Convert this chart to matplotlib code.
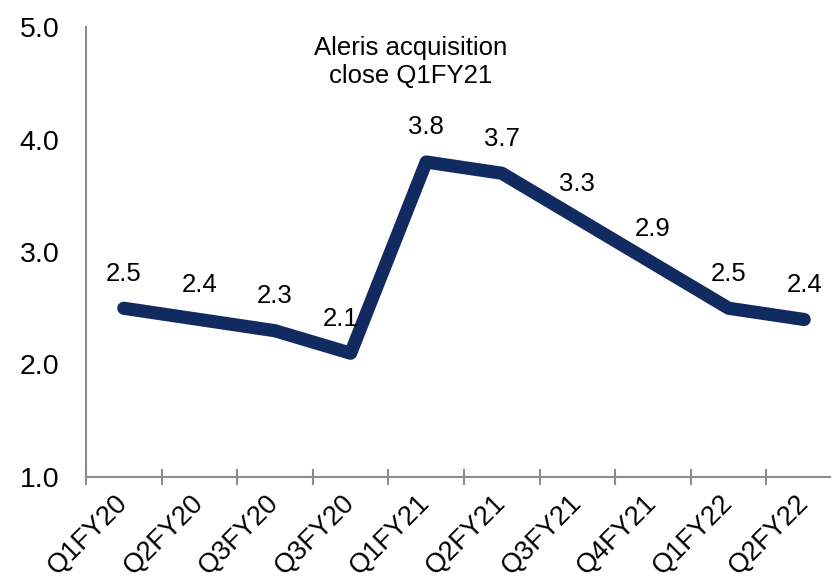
import matplotlib.pyplot as plt
import numpy as np

plt.rcParams['font.family'] = ['Liberation Sans', 'DejaVu Sans']

quarters = ['Q1FY20', 'Q2FY20', 'Q3FY20', 'Q3FY20', 'Q1FY21',
            'Q2FY21', 'Q3FY21', 'Q4FY21', 'Q1FY22', 'Q2FY22']
leverage = [2.5, 2.4, 2.3, 2.1, 3.8, 3.7, 3.3, 2.9, 2.5, 2.4]
y_ticks = [1.0, 2.0, 3.0, 4.0, 5.0]

navy = '#112a5f'
grey = '#8c8c8c'

fig = plt.figure(figsize=(8.31, 5.87), dpi=100)
# axis runs a little past the right edge of the picture, like the original
ax = fig.add_axes([86 / 831, 110 / 587, 756 / 831, 450 / 587])

x = np.arange(len(quarters))
ax.plot(x, leverage, color=navy, linewidth=9.5, solid_joinstyle='round',
        solid_capstyle='round')

# the 2.1 label sits a bit left of its point so it clears the line
nudge = [0, 0, 0, -7, 0, 0, 0, 0, 0, 0]
for xi, v, dx in zip(x, leverage, nudge):
    ax.annotate(f'{v:.1f}', (xi, v), xytext=(dx, 25), textcoords='offset points',
                ha='center', va='center', fontsize=18.5)

ax.text(3.79, 4.69, 'Aleris acquisition\nclose Q1FY21', ha='center', va='center',
        fontsize=18.5, linespacing=1.25)

ax.set_xlim(-0.5, len(quarters) - 0.5)
ax.set_ylim(1.0, 5.0)
ax.set_yticks(y_ticks)
ax.set_yticklabels([f'{t:.1f}' for t in y_ticks], fontsize=20.5)
ax.tick_params(axis='y', length=0, pad=19)

ax.set_xticks(x)
ax.set_xticklabels(quarters, fontsize=19.5, rotation=45, ha='right',
                   va='center', rotation_mode='anchor')
ax.tick_params(axis='x', which='major', length=0, pad=16)
ax.set_xticks(np.arange(len(quarters) + 1) - 0.5, minor=True)
ax.tick_params(axis='x', which='minor', direction='inout', length=12,
               width=1.5, color=grey)

for side in ['top', 'right']:
    ax.spines[side].set_visible(False)
for side in ['left', 'bottom']:
    ax.spines[side].set_color(grey)
    ax.spines[side].set_linewidth(1.5)

fig.savefig('out.png', dpi=100)
